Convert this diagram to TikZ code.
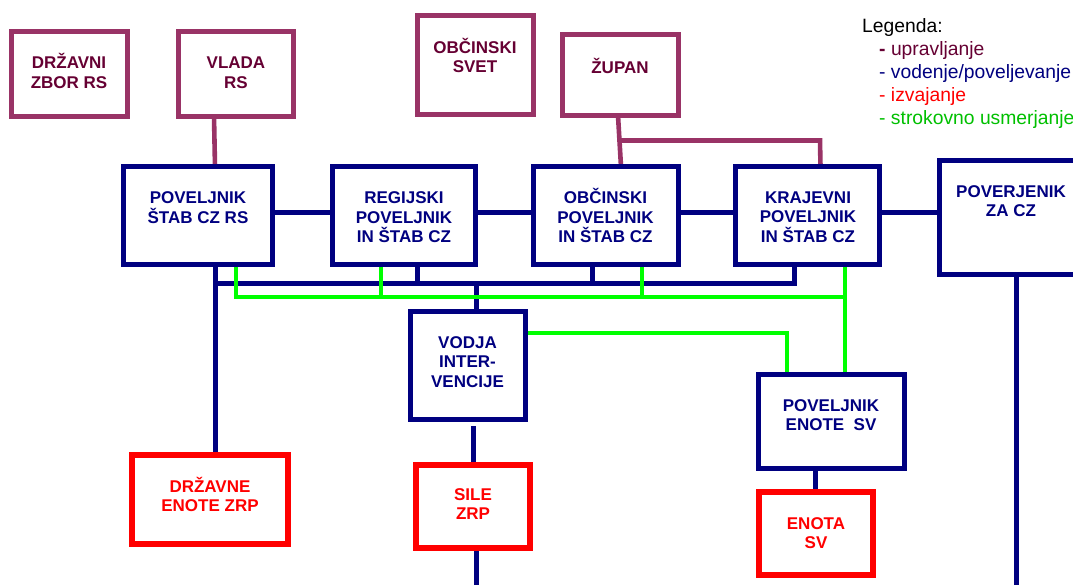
\documentclass[tikz,border=0pt]{standalone}
\usepackage{fontspec}
\setmainfont{Liberation Sans}
\usetikzlibrary{calc}
\pgfdeclarelayer{background}
\pgfsetlayers{background,main}
\definecolor{pur}{HTML}{993366}
\definecolor{purtxt}{HTML}{660033}
\definecolor{navy}{HTML}{000080}
\definecolor{redc}{HTML}{FF0000}
\definecolor{grn}{HTML}{00FF00}
\definecolor{grntxt}{HTML}{00C000}
\newcommand{\mystrut}{\rule[-3pt]{0pt}{19.5pt}}
\tikzset{
  box/.style={rectangle, inner sep=0pt, outer sep=0pt, line width=5.2pt},
  pbox/.style={box, draw=pur},
  bbox/.style={box, draw=navy},
  rbox/.style={box, draw=redc, line width=5.6pt},
  btxt/.style={anchor=north, inner sep=0pt, align=center, font=\bfseries\fontsize{17}{19.5}\selectfont},
  ptxt/.style={btxt, text=purtxt},
  ntxt/.style={btxt, text=navy},
  rtxt/.style={btxt, text=redc},
  pline/.style={draw=pur, line width=4.6pt},
  nline/.style={draw=navy, line width=5pt},
  gline/.style={draw=grn, line width=4.6pt},
  leg/.style={anchor=base west, inner sep=0pt, font=\fontsize{19.3}{23}\selectfont},
}
\begin{document}
\begin{tikzpicture}[x=1pt,y=-1pt]
\useasboundingbox (0,0) rectangle (1073,584);
\begin{pgfonlayer}{background}
\fill[white] (0,0) rectangle (1073,584);
\end{pgfonlayer}
\clip (0,0) rectangle (1073,584);

% purple boxes
\node[pbox, minimum width=116pt, minimum height=85pt] (zbor) at (69.5,74) {};
\node[ptxt] (zbor-t) at (69,52.1) {\mystrut DRŽAVNI\\\mystrut ZBOR RS};
\node[pbox, minimum width=115pt, minimum height=85pt] (vlada) at (236,74) {};
\node[ptxt] (vlada-t) at (236,52.1) {\mystrut VLADA\\\mystrut RS};
\node[pbox, minimum width=116pt, minimum height=99pt] (svet) at (475.5,65) {};
\node[ptxt] (svet-t) at (475,36.6) {\mystrut OBČINSKI\\\mystrut SVET};
\node[pbox, minimum width=116pt, minimum height=81pt] (zupan) at (620.5,75) {};
\node[ptxt] (zupan-t) at (620,56.6) {\mystrut ŽUPAN};

% blue boxes
\node[bbox, minimum width=149pt, minimum height=98pt] (pscz) at (198,215.5) {};
\node[ntxt] (pscz-t) at (198,187.1) {\mystrut POVELJNIK\\\mystrut ŠTAB CZ RS};
\node[bbox, minimum width=143pt, minimum height=98pt] (reg) at (404,215.5) {};
\node[ntxt] (reg-t) at (404,187.1) {\mystrut REGIJSKI\\\mystrut POVELJNIK\\\mystrut IN ŠTAB CZ};
\node[bbox, minimum width=145pt, minimum height=98pt] (obcpov) at (606,215.5) {};
\node[ntxt] (obcpov-t) at (605.5,187.1) {\mystrut OBČINSKI\\\mystrut POVELJNIK\\\mystrut IN ŠTAB CZ};
\node[bbox, minimum width=144pt, minimum height=98pt] (kraj) at (807.5,215.5) {};
\node[ntxt] (kraj-t) at (808,186.6) {\mystrut KRAJEVNI\\\mystrut POVELJNIK\\\mystrut IN ŠTAB CZ};
\node[bbox, minimum width=143pt, minimum height=114pt] (pover) at (1011,217.5) {};
\node[ntxt] (pover-t) at (1011,180.6) {\mystrut POVERJENIK\\\mystrut ZA CZ};
\node[bbox, minimum width=115pt, minimum height=108pt] (vodja) at (468,365.5) {};
\node[ntxt] (vodja-t) at (467.5,331.6) {\mystrut VODJA\\\mystrut INTER-\\\mystrut VENCIJE};
\node[bbox, minimum width=146pt, minimum height=94pt] (povsv) at (831.5,421.5) {};
\node[ntxt] (povsv-t) at (831,394.6) {\mystrut POVELJNIK\\\mystrut ENOTE\ \ SV};

% red boxes
\node[rbox, minimum width=114.5pt, minimum height=83.5pt] (sile) at (473,506.5) {};
\node[rtxt] (sile-t) at (473,483.6) {\mystrut SILE\\\mystrut ZRP};
\node[rbox, minimum width=156.5pt, minimum height=89.5pt] (drz) at (210,499.5) {};
\node[rtxt] (drz-t) at (210,475.6) {\mystrut DRŽAVNE\\\mystrut ENOTE ZRP};
\node[rbox, minimum width=114.5pt, minimum height=83.5pt] (enota) at (816,533.5) {};
\node[rtxt] (enota-t) at (816,512.6) {\mystrut ENOTA\\\mystrut SV};

% legend
\node[leg] (legh) at (862,32.3) {Legenda:};
\node[leg, text=purtxt] (leg1) at (879,55) {{\bfseries -} upravljanje};
\node[leg, text=navy] (leg2) at (879,78) {- vodenje/poveljevanje};
\node[leg, text=redc] (leg3) at (879,101) {- izvajanje};
\node[leg, text=grntxt] (leg4) at (879,124) {- strokovno usmerjanje};

% helper coordinates
\coordinate (zj) at (621,140.5);
\coordinate (zk) at (820,140.5);
\coordinate (busL) at (215,283.5);
\coordinate (busR) at (794.5,283.5);
\coordinate (vt) at (476,283.5);
\coordinate (gL) at (236,297);
\coordinate (gR) at (845,297);
\coordinate (sileend) at (476,586);
\coordinate (poverend) at (1016,586);
\path ([xshift=13pt]reg.south) coordinate (rd);
\path ([xshift=-14pt]obcpov.south) coordinate (od);
\path ([xshift=-23pt]reg.south) coordinate (rg);
\path ([xshift=36pt]obcpov.south) coordinate (og);

\begin{pgfonlayer}{background}
% purple connectors
\draw[pline] ([xshift=-22pt]vlada.south) -- ([xshift=17pt]pscz.north);
\draw[pline] ([xshift=-2.5pt]zupan.south) -- ([xshift=15pt]obcpov.north);
\draw[pline] (zj) -- (zk) -- ([xshift=13pt]kraj.north);
% blue connectors
\draw[nline] ($(pscz.east)+(0,-3.5)$) -- ($(reg.west)+(0,-3.5)$);
\draw[nline] ($(reg.east)+(0,-3.5)$) -- ($(obcpov.west)+(0,-3.5)$);
\draw[nline] ($(obcpov.east)+(0,-3.5)$) -- ($(kraj.west)+(0,-3.5)$);
\draw[nline] ($(kraj.east)+(0,-3.5)$) -- ($(kraj.east -| pover.west)+(0,-3.5)$);
\draw[nline] ([xshift=17pt]pscz.south) -- ([xshift=5pt]drz.north);
\draw[nline] (busL) -- (busR) -- (busR |- kraj.south);
\draw[nline] (rd) -- (rd |- busL);
\draw[nline] (od) -- (od |- busL);
\draw[nline] (vt) -- (vt |- vodja.north);
\draw[nline] ($(vodja.south)+(5,6.5)$) -- (sile.north);
\draw[nline] ([xshift=3pt]sile.south) -- (sileend);
\draw[nline] ([xshift=-16pt]povsv.south) -- ([xshift=-0.5pt]enota.north);
\draw[nline] ([xshift=5pt]pover.south) -- (poverend);
% green connectors
\draw[gline] ([xshift=38pt]pscz.south) -- (gL) -- (gR);
\draw[gline] (rg) -- (rg |- gL);
\draw[gline] (og) -- (og |- gL);
\draw[gline] ([xshift=37.5pt]kraj.south) -- ([xshift=13.5pt]povsv.north);
\draw[gline] ([yshift=32.5pt]vodja.east) -| ([xshift=-44.5pt]povsv.north);
\end{pgfonlayer}
\end{tikzpicture}
\end{document}
